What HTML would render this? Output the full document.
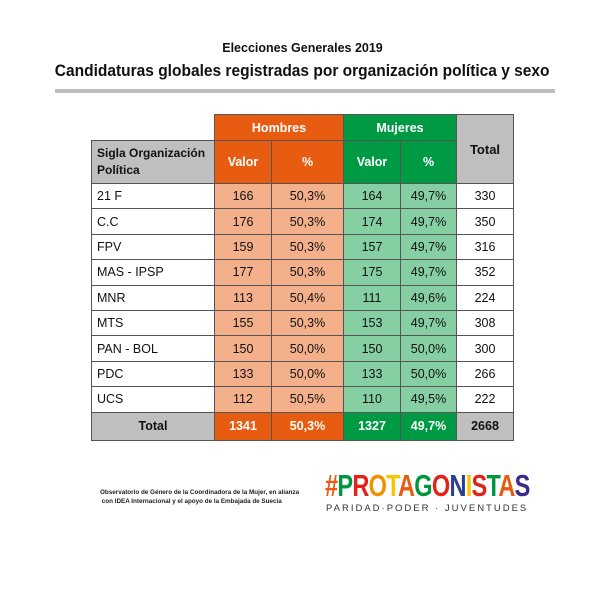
<!DOCTYPE html>
<html><head><meta charset="utf-8"><style>
body{margin:0;width:605px;height:605px;background:#fff;font-family:"Liberation Sans",sans-serif;position:relative;overflow:hidden}
.a{position:absolute}
table{border-collapse:collapse;position:absolute;left:91px;top:114px;font-size:12.5px;color:#111}
td{border:1px solid #555;text-align:center;padding:0;height:24.4px}
.oh{background:#e85c12;color:#fff;font-weight:bold}
.gh{background:#009a44;color:#fff;font-weight:bold}
.ol{background:#f4b08a}.gl{background:#85cfa3}
.gr{background:#bfbfbf;font-weight:bold}
.l{text-align:left;padding-left:5px}
</style></head><body>
<div class="a" style="left:0;width:605px;top:41px;text-align:center;font-weight:bold;font-size:12.5px;color:#111">Elecciones Generales 2019</div>
<div class="a" style="left:0;width:605px;top:62px;text-align:center;font-weight:bold;font-size:16.5px;color:#111"><span style="display:inline-block;transform:scaleX(0.94)">Candidaturas globales registradas por organización política y sexo</span></div>
<div class="a" style="left:55px;top:89px;width:500px;height:4px;background:#bdbdbd"></div>
<table>
<colgroup><col style="width:123px"><col style="width:57px"><col style="width:72px"><col style="width:57px"><col style="width:56px"><col style="width:57px"></colgroup>
<tr><td style="border:none;border-bottom:1px solid #555;height:25px"></td><td class="oh" colspan="2" style="height:25px">Hombres</td><td class="gh" colspan="2">Mujeres</td><td class="gr" rowspan="2" style="font-size:13px">Total</td></tr>
<tr><td class="gr l" style="height:42px;font-size:12px;line-height:17px">Sigla Organización Política</td><td class="oh">Valor</td><td class="oh">%</td><td class="gh">Valor</td><td class="gh">%</td></tr>
<tr><td class="l">21 F</td><td class="ol">166</td><td class="ol">50,3%</td><td class="gl">164</td><td class="gl">49,7%</td><td>330</td></tr>
<tr><td class="l">C.C</td><td class="ol">176</td><td class="ol">50,3%</td><td class="gl">174</td><td class="gl">49,7%</td><td>350</td></tr>
<tr><td class="l">FPV</td><td class="ol">159</td><td class="ol">50,3%</td><td class="gl">157</td><td class="gl">49,7%</td><td>316</td></tr>
<tr><td class="l">MAS - IPSP</td><td class="ol">177</td><td class="ol">50,3%</td><td class="gl">175</td><td class="gl">49,7%</td><td>352</td></tr>
<tr><td class="l">MNR</td><td class="ol">113</td><td class="ol">50,4%</td><td class="gl">111</td><td class="gl">49,6%</td><td>224</td></tr>
<tr><td class="l">MTS</td><td class="ol">155</td><td class="ol">50,3%</td><td class="gl">153</td><td class="gl">49,7%</td><td>308</td></tr>
<tr><td class="l">PAN - BOL</td><td class="ol">150</td><td class="ol">50,0%</td><td class="gl">150</td><td class="gl">50,0%</td><td>300</td></tr>
<tr><td class="l">PDC</td><td class="ol">133</td><td class="ol">50,0%</td><td class="gl">133</td><td class="gl">50,0%</td><td>266</td></tr>
<tr><td class="l">UCS</td><td class="ol">112</td><td class="ol">50,5%</td><td class="gl">110</td><td class="gl">49,5%</td><td>222</td></tr>
<tr><td class="gr" style="height:27px">Total</td><td class="oh">1341</td><td class="oh">50,3%</td><td class="gh">1327</td><td class="gh">49,7%</td><td class="gr">2668</td></tr>
</table>
<div class="a" style="left:100px;top:488px;font-size:6.3px;line-height:9px;color:#222;font-weight:bold">Observatorio de Género de la Coordinadora de la Mujer, en alianza<br>&nbsp;con IDEA Internacional y el apoyo de la Embajada de Suecia</div>
<div class="a" style="left:325px;top:469px;font-size:31px;font-weight:bold;letter-spacing:-1px;transform:scaleX(0.76);transform-origin:left;white-space:nowrap;line-height:34px"><span style="color:#e85c12">#</span><span style="color:#00963f">P</span><span style="color:#e32219">R</span><span style="color:#f29100">O</span><span style="color:#f7c600">T</span><span style="color:#e85c12">A</span><span style="color:#00963f">G</span><span style="color:#e32219">O</span><span style="color:#2a3d8f">N</span><span style="color:#f7c600">I</span><span style="color:#e32219">S</span><span style="color:#00963f">T</span><span style="color:#e85c12">A</span><span style="color:#3b2a8a">S</span></div>
<div class="a" style="left:326px;top:503px;font-size:9.5px;letter-spacing:2px;color:#333;white-space:nowrap">PARIDAD·PODER · JUVENTUDES</div>
</body></html>
